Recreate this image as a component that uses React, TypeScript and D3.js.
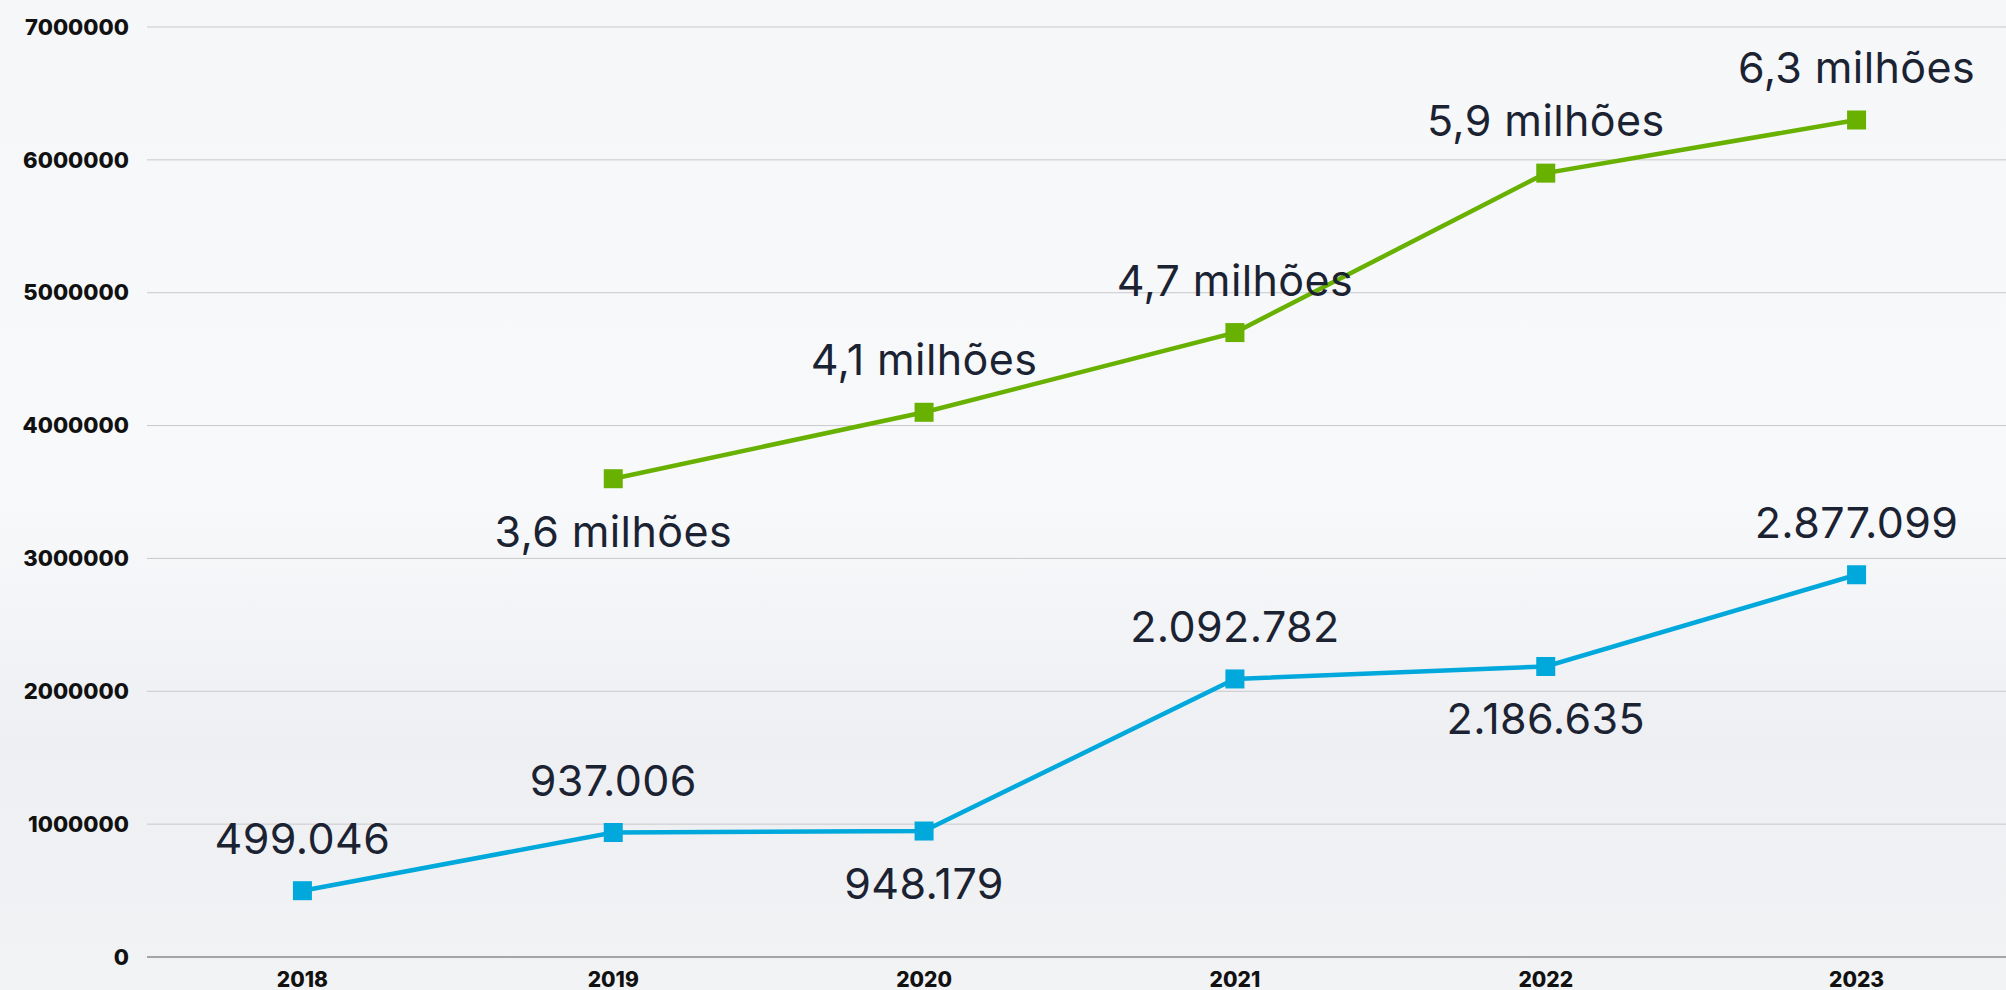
import React, { useEffect, useRef } from "react"
import * as d3 from "d3"

// years on the x axis
const years = ["2018", "2019", "2020", "2021", "2022", "2023"]

// green series (starts in 2019), blue series
const greenValues = [null, 3600000, 4100000, 4700000, 5900000, 6300000]
const greenLabels = ["", "3,6 milhões", "4,1 milhões", "4,7 milhões", "5,9 milhões", "6,3 milhões"]
const greenBelow = [false, true, false, false, false, false]

const blueValues = [499046, 937006, 948179, 2092782, 2186635, 2877099]
const blueLabels = ["499.046", "937.006", "948.179", "2.092.782", "2.186.635", "2.877.099"]
const blueBelow = [false, false, true, false, true, false]

const yTicks = [0, 1000000, 2000000, 3000000, 4000000, 5000000, 6000000, 7000000]

export default function App() {
  const ref = useRef<SVGSVGElement>(null)

  useEffect(() => {
    const width = 2006,
      height = 990

    const svg = d3.select(ref.current)
    svg.selectAll("*").remove()

    // background, a light grey wash in place of the photo
    const defs = svg.append("defs")
    const grad = defs
      .append("linearGradient")
      .attr("id", "bg")
      .attr("x1", 0)
      .attr("y1", 0)
      .attr("x2", 0)
      .attr("y2", 1)
    grad.append("stop").attr("offset", "0%").attr("stop-color", "#f6f7f9")
    grad.append("stop").attr("offset", "50%").attr("stop-color", "#f8f9fb")
    grad.append("stop").attr("offset", "75%").attr("stop-color", "#eeeff2")
    grad.append("stop").attr("offset", "100%").attr("stop-color", "#f2f3f5")
    svg.append("rect").attr("width", width).attr("height", height).attr("fill", "url(#bg)")

    const x = d3.scaleBand().domain(years).range([147, 2012])
    const xc = (d: string) => (x(d) as number) + x.bandwidth() / 2

    const y = d3.scaleLinear().domain([0, 7000000]).range([957, 27])

    // grid lines
    svg
      .append("g")
      .selectAll("line")
      .data(yTicks)
      .enter()
      .append("line")
      .attr("x1", 147)
      .attr("x2", width)
      .attr("y1", (d) => y(d))
      .attr("y2", (d) => y(d))
      .attr("stroke", (d) => (d === 0 ? "#8a8a8a" : "#c9c9cc"))
      .attr("stroke-width", (d) => (d === 0 ? 1.5 : 1))

    // y tick labels
    svg
      .append("g")
      .selectAll("text")
      .data(yTicks)
      .enter()
      .append("text")
      .attr("x", 129)
      .attr("y", (d) => y(d))
      .attr("dy", "0.35em")
      .attr("text-anchor", "end")
      .attr("font-family", "Inter, 'Open Sans', sans-serif")
      .attr("font-weight", 800)
      .attr("font-size", 22)
      .attr("fill", "#111")
      .text((d) => String(d))

    // x tick labels
    svg
      .append("g")
      .selectAll("text")
      .data(years)
      .enter()
      .append("text")
      .attr("x", (d) => xc(d))
      .attr("y", 987)
      .attr("text-anchor", "middle")
      .attr("font-family", "Inter, 'Open Sans', sans-serif")
      .attr("font-weight", 800)
      .attr("font-size", 21)
      .attr("fill", "#111")
      .text((d) => d)

    const drawSeries = (values: (number | null)[], labels: string[], below: boolean[], color: string) => {
      const pts = years
        .map((yr, i) => ({ yr, v: values[i], label: labels[i], below: below[i] }))
        .filter((p) => p.v !== null) as { yr: string; v: number; label: string; below: boolean }[]

      const line = d3
        .line<{ yr: string; v: number }>()
        .x((d) => xc(d.yr))
        .y((d) => y(d.v))

      svg
        .append("path")
        .datum(pts)
        .attr("d", line)
        .attr("fill", "none")
        .attr("stroke", color)
        .attr("stroke-width", 4.5)

      const size = 19
      svg
        .append("g")
        .selectAll("rect")
        .data(pts)
        .enter()
        .append("rect")
        .attr("x", (d) => xc(d.yr) - size / 2)
        .attr("y", (d) => y(d.v) - size / 2)
        .attr("width", size)
        .attr("height", size)
        .attr("fill", color)

      svg
        .append("g")
        .selectAll("text")
        .data(pts)
        .enter()
        .append("text")
        .attr("x", (d) => xc(d.yr))
        .attr("y", (d) => (d.below ? y(d.v) + 68 : y(d.v) - 37))
        .attr("text-anchor", "middle")
        .attr("font-family", "Inter, 'Open Sans', sans-serif")
        .attr("font-size", 43)
        .attr("letter-spacing", 0.4)
        .attr("fill", "#1b2333")
        .text((d) => d.label)
    }

    drawSeries(greenValues, greenLabels, greenBelow, "#68b100")
    drawSeries(blueValues, blueLabels, blueBelow, "#00a8dc")
  }, [])

  return (
    <svg
      ref={ref}
      width={2006}
      height={990}
      style={{ position: "absolute", left: 0, top: 0, display: "block" }}
    />
  )
}
